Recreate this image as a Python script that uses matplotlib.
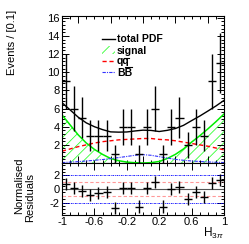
import matplotlib
matplotlib.use('Agg')
import matplotlib.pyplot as plt
from matplotlib.lines import Line2D
from matplotlib.patches import Rectangle
from matplotlib.ticker import MultipleLocator
import numpy as np

plt.rcParams['font.family'] = ['Liberation Sans', 'DejaVu Sans']
plt.rcParams['mathtext.fontset'] = 'custom'
plt.rcParams['mathtext.rm'] = 'Liberation Sans'
plt.rcParams['mathtext.it'] = 'Liberation Sans:italic'
plt.rcParams['axes.unicode_minus'] = False
plt.rcParams['hatch.linewidth'] = 0.6

# Бины гистограммы (центры) и число событий
bin_centers = np.arange(-0.95, 1.0, 0.1)
counts = [9, 6, 5, 3, 3, 3, 1, 4, 4, 1, 4, 6, 1, 4, 5, 2, 4, 3, 9, 11]
residuals = [0.74, 0.1, -0.25, -0.89, -0.54, -0.4, -2.86, 0.2, 0.2, -2.6,
             0.1, 1.08, -2.6, 0.0, 0.35, -1.48, -0.4, -1.14, 0.84, 1.33]

# Компоненты модели (шаг 0.1)
h_curve = np.linspace(-1, 1, 21)
signal = [5.3, 4.2, 3.1, 2.2, 1.5, 0.95, 0.5, 0.25, 0.1, 0.03, 0.0,
          0.04, 0.17, 0.5, 0.95, 1.55, 2.3, 3.0, 3.75, 4.55, 5.4]
qqbar = [1.3, 1.55, 1.8, 2.0, 2.2, 2.35, 2.45, 2.55, 2.6, 2.65, 2.7,
         2.7, 2.6, 2.55, 2.45, 2.3, 2.15, 2.0, 1.85, 1.65, 1.45]
bbbar = [0.05, 0.1, 0.15, 0.22, 0.3, 0.38, 0.48, 0.6, 0.72, 0.85, 0.92,
         0.85, 0.7, 0.55, 0.4, 0.3, 0.22, 0.17, 0.12, 0.08, 0.05]
total = np.array(signal) + np.array(qqbar) + np.array(bbbar)

# подписи легенды; у qq и BB черта над второй буквой рисуется отдельно
labels = ['total PDF', 'signal', 'qq', 'BB']

W, H = 249, 244
fig = plt.figure(figsize=(W / 100, H / 100), dpi=100)
left, right = 62 / W, 224 / W
ax = fig.add_axes([left, 1 - 163 / H, right - left, (163 - 16) / H])
axr = fig.add_axes([left, 1 - 215 / H, right - left, (215 - 163) / H])

green_line, green_hatch = '#00ee00', '#33ff33'
red_style = dict(color='red', linestyle=(0, (3, 2)), linewidth=1)
blue_style = dict(color='#3333ff', linestyle=(0, (3, 1, 1, 1)), linewidth=0.8)

# Верхняя панель
ax.fill_between(h_curve, 0, signal, facecolor='none', edgecolor=green_hatch,
                hatch='///', linewidth=0)
ax.plot(h_curve, signal, color=green_line, linewidth=1.1)
ax.plot(h_curve, qqbar, **red_style)
ax.plot(h_curve, bbbar, **blue_style)
ax.plot(h_curve, total, color='black', linewidth=1)
ax.errorbar(bin_centers, counts, yerr=np.sqrt(counts), xerr=0.05, fmt='none',
            ecolor='black', elinewidth=1, capsize=0)

ax.set_xlim(-1, 1)
ax.set_ylim(0, 16.2)
ax.set_yticks(range(2, 17, 2))
ax.yaxis.set_minor_locator(MultipleLocator(0.4))
ax.xaxis.set_major_locator(MultipleLocator(0.4))
ax.xaxis.set_minor_locator(MultipleLocator(0.1))
ax.tick_params(labelbottom=False)

# Легенда вручную: строки через 11 пикселей
renderer = fig.canvas.get_renderer()
for i, lab in enumerate(labels):
    yc = 1 - (39 + 11 * i) / H
    x0, x1 = 102 / W, 115 / W
    if i == 1:
        fig.patches.append(Rectangle((x0, yc - 4 / H), x1 - x0, 8 / H,
                                     transform=fig.transFigure, facecolor='none',
                                     edgecolor=green_hatch, hatch='///', linewidth=0))
    else:
        style = [dict(color='black', linewidth=1), None, red_style, blue_style][i]
        fig.lines.append(Line2D([x0, x1], [yc, yc], transform=fig.transFigure, **style))
    base = yc - 3.5 / H
    t = fig.text(117 / W, base, lab, ha='left', va='baseline',
                 fontsize=7.5, fontweight='bold')
    if i >= 2:
        # черта над второй буквой (антикварк)
        full = t.get_window_extent(renderer)
        one = fig.text(0, 0, lab[0], fontsize=7.5, fontweight='bold')
        w1 = one.get_window_extent(renderer).width
        one.remove()
        lift = 7.0 if i == 2 else 9.0
        fig.lines.append(Line2D([(full.x0 + w1 + 0.5) / W, (full.x1 - 0.3) / W],
                                [base + lift / H] * 2, transform=fig.transFigure,
                                color='black', linewidth=0.8))

# Нижняя панель: нормированные остатки
axr.axhline(0, color='#555555', linewidth=0.8)
for v in (1, -1):
    axr.axhline(v, color='#ff9999', linestyle=(0, (3, 2)), linewidth=0.8)
for v in (2, -2):
    axr.axhline(v, color='blue', linestyle=(0, (2, 1, 1, 1)), linewidth=0.6)
axr.errorbar(bin_centers, residuals, yerr=0.9, xerr=0.05, fmt='none',
             ecolor='black', elinewidth=1, capsize=0)
axr.set_xlim(-1, 1)
axr.set_ylim(-3.85, 3.85)
axr.set_yticks([-2, 0, 2])
axr.yaxis.set_minor_locator(MultipleLocator(0.5))
axr.xaxis.set_minor_locator(MultipleLocator(0.1))
axr.set_xticks([-1, -0.6, -0.2, 0.2, 0.6, 1])
axr.set_xticklabels(['-1', '-0.6', '-0.2', '0.2', '0.6', '1'])

for a in (ax, axr):
    a.tick_params(which='both', direction='in', top=True, right=True,
                  labelsize=8, pad=1.5, width=0.7)
    a.tick_params(which='major', length=5)
    a.tick_params(which='minor', length=2.5)
    for s in a.spines.values():
        s.set_linewidth(0.8)

fig.text(12 / W, 1 - 10 / H, 'Events / [0.1]', rotation=90, ha='center',
         va='top', fontsize=8)
fig.text(19 / W, 1 - 186 / H, 'Normalised', rotation=90, ha='center',
         va='center', fontsize=8)
fig.text(30 / W, 1 - 197 / H, 'Residuals', rotation=90, ha='center',
         va='center', fontsize=8)
fig.text(224 / W, 1 - 233 / H, r'$\mathrm{H}_{3\pi}$', ha='right',
         va='center', fontsize=8.5)

fig.savefig('out.png', dpi=100)
